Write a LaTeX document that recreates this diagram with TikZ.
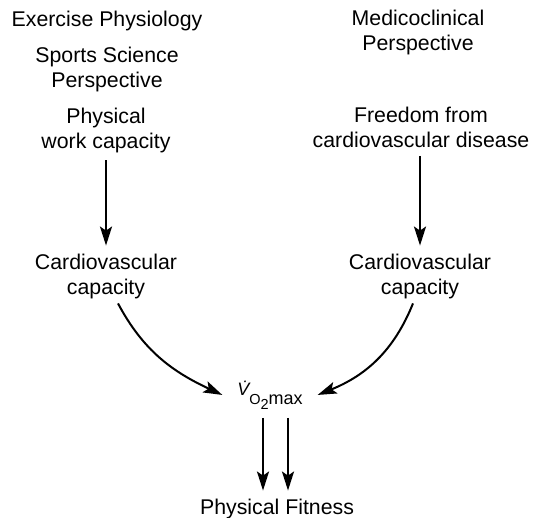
\documentclass[tikz,border=0pt]{standalone}
\usepackage{fontspec}
\setmainfont{Liberation Sans}
\usetikzlibrary{arrows.meta,positioning}

\begin{document}
\begin{tikzpicture}[
    x=1pt, y=1pt,
    txt/.style={align=center, inner sep=0pt, outer sep=8pt, font=\fontsize{21.3}{25}\selectfont},
    arrow/.style={-{Stealth[length=19pt,width=12pt,inset=4pt]}, line width=2pt}
]
    \useasboundingbox (0,0) rectangle (541,517);

    \node[txt] (exphys) at (107,496) {Exercise Physiology};
    \node[txt] (sports) at (107,448) {Sports Science\\Perspective};
    \node[txt] (physwork) at (106,387) {Physical\\work capacity};
    \node[txt] (cardioL) at (106,241) {Cardiovascular\\capacity};

    \node[txt] (medico) at (418,484.5) {Medicoclinical\\Perspective};
    \node[txt] (freedom) at (421,389.5) {Freedom from\\cardiovascular disease};
    \node[txt] (cardioR) at (420,241) {Cardiovascular\\capacity};

    % V-dot O2 max
    \node[txt, anchor=base, outer xsep=15pt, outer ysep=9pt] (vo2) at (270,112)
        {\fontsize{18}{18}\selectfont\raisebox{9pt}{\itshape\.{V}}\fontsize{14.5}{14.5}\selectfont O\raisebox{-4pt}{2}\fontsize{18}{18}\selectfont max};
    \node[txt, anchor=base] (fitness) at (277,3) {Physical Fitness};

    \draw[arrow] (physwork) -- (cardioL);
    \draw[arrow] (freedom.south -| cardioR) -- (cardioR);
    \draw[arrow] ([xshift=12pt,yshift=3pt]cardioL.south) to[out=-62, in=155] (vo2.west);
    \draw[arrow] ([xshift=-7pt,yshift=3pt]cardioR.south) to[out=-112, in=22] (vo2.east);
    \draw[arrow] ([xshift=-14pt]fitness.north |- vo2.south) -- ([xshift=-14pt]fitness.north);
    \draw[arrow] ([xshift=11pt]fitness.north |- vo2.south) -- ([xshift=11pt]fitness.north);
\end{tikzpicture}
\end{document}
